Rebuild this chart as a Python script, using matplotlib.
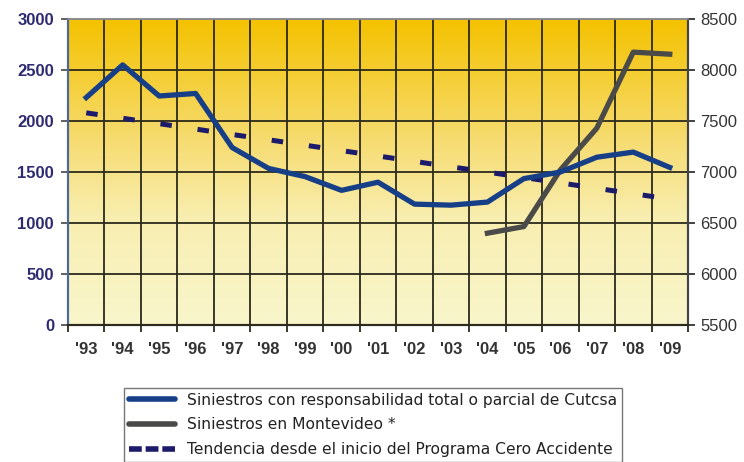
import numpy as np
import matplotlib.pyplot as plt
from matplotlib.colors import LinearSegmentedColormap

years = ["'93", "'94", "'95", "'96", "'97", "'98", "'99", "'00", "'01",
         "'02", "'03", "'04", "'05", "'06", "'07", "'08", "'09"]
cutcsa = [2230, 2550, 2245, 2270, 1740, 1535, 1455, 1320, 1400,
          1185, 1175, 1205, 1435, 1500, 1645, 1695, 1545]
montevideo_years = ["'04", "'05", "'06", "'07", "'08", "'09"]
montevideo = [6400, 6465, 7020, 7430, 8175, 8155]
tendencia = [2080, 2027, 1974, 1921, 1868, 1816, 1763, 1710, 1657,
             1604, 1551, 1499, 1446, 1393, 1340, 1287, 1235]

BLUE = '#163f88'
GRAY = '#4a4a48'
NAVY = '#1c1a6a'

fig = plt.figure(figsize=(7.44, 4.62), dpi=100)
ax = fig.add_axes([68 / 744, 1 - 325 / 462, 620 / 744, 306 / 462])
ax2 = ax.twinx()

x = np.arange(len(years))
xm = [years.index(y) for y in montevideo_years]

# gradient background
cmap = LinearSegmentedColormap.from_list(
    'bg', [(0.0, '#f9f6cc'), (0.35, '#f8eeb0'), (0.6, '#f6dc72'), (1.0, '#f4c200')])
grad = np.linspace(0, 1, 256).reshape(-1, 1)
ax.imshow(grad, cmap=cmap, aspect='auto', origin='lower',
          extent=[-0.5, len(years) - 0.5, 0, 3000], zorder=0)

ax.set_xlim(-0.5, len(years) - 0.5)
ax.set_ylim(0, 3000)
ax2.set_ylim(5500, 8500)

# grid
for yv in range(500, 3000, 500):
    ax.axhline(yv, color='#2b2a1c', lw=1.3, zorder=1)
for xv in np.arange(0.5, len(years) - 1, 1):
    ax.axvline(xv, color='#2b2a1c', lw=1.3, zorder=1)

# everything on ax2 so the blue line sits above the gray one
ax.set_zorder(ax2.get_zorder() - 1)
ax2.patch.set_visible(False)
ax2.plot(xm, montevideo, color=GRAY, lw=3.8, zorder=4)
ax2.plot(x, np.array(tendencia) + 5500, color=NAVY, lw=3.6, dashes=(2.3, 5.2), zorder=3)
ax2.plot(x, np.array(cutcsa) + 5500, color=BLUE, lw=3.8, zorder=5)

ax.set_yticks(range(0, 3001, 500))
ax2.set_yticks(range(5500, 8501, 500))
ax.set_xticks(np.arange(-0.5, len(years), 1))
ax.set_xticklabels([])
ax.set_xticks(x, minor=True)
ax.set_xticklabels(years, minor=True)
ax.tick_params(axis='x', which='major', length=5, width=1.3, color='#2b2a1c')
ax.tick_params(axis='x', which='minor', length=0, pad=12, labelsize=12,
               labelcolor='#333333')
ax.tick_params(axis='y', length=5, width=1.3, color='#555555', labelsize=12,
               labelcolor='#2e2a72', pad=5)
ax2.tick_params(axis='y', length=5, width=1.3, color='#333333', labelsize=12,
                labelcolor='#333333', pad=4)
for lab in ax.get_yticklabels() + ax.get_xticklabels(minor=True):
    lab.set_fontweight('bold')
    lab.set_fontfamily('Liberation Sans')
for lab in ax2.get_yticklabels():
    lab.set_fontfamily('Liberation Sans')

for a in (ax, ax2):
    a.spines['left'].set_color('#4a68a0')
    a.spines['left'].set_linewidth(1.5)
    a.spines['right'].set_color('#444444')
    a.spines['right'].set_linewidth(1.5)
    a.spines['top'].set_color('#8a8a90')
    a.spines['top'].set_linewidth(1.2)
    a.spines['bottom'].set_color('#2b2a1c')
    a.spines['bottom'].set_linewidth(1.5)

h1 = plt.Line2D([], [], color=BLUE, lw=4, solid_capstyle='round')
h2 = plt.Line2D([], [], color=GRAY, lw=4, solid_capstyle='round')
h3 = plt.Line2D([], [], color=NAVY, lw=4, dashes=(2.3, 0.7))
leg = fig.legend([h1, h2, h3],
                 ['Siniestros con responsabilidad total o parcial de Cutcsa',
                  'Siniestros en Montevideo *',
                  'Tendencia desde el inicio del Programa Cero Accidente'],
                 loc='upper left', bbox_to_anchor=(124 / 744, 1 - 388 / 462),
                 borderaxespad=0, frameon=True, fancybox=False, handlelength=3.0,
                 handletextpad=0.75, labelspacing=0.62, borderpad=0.3,
                 prop={'family': 'DejaVu Sans', 'size': 11.2})
leg.get_frame().set_edgecolor('#555555')
leg.get_frame().set_linewidth(1.0)
for t in leg.get_texts():
    t.set_color('#222222')

fig.savefig('out.png', dpi=100)
